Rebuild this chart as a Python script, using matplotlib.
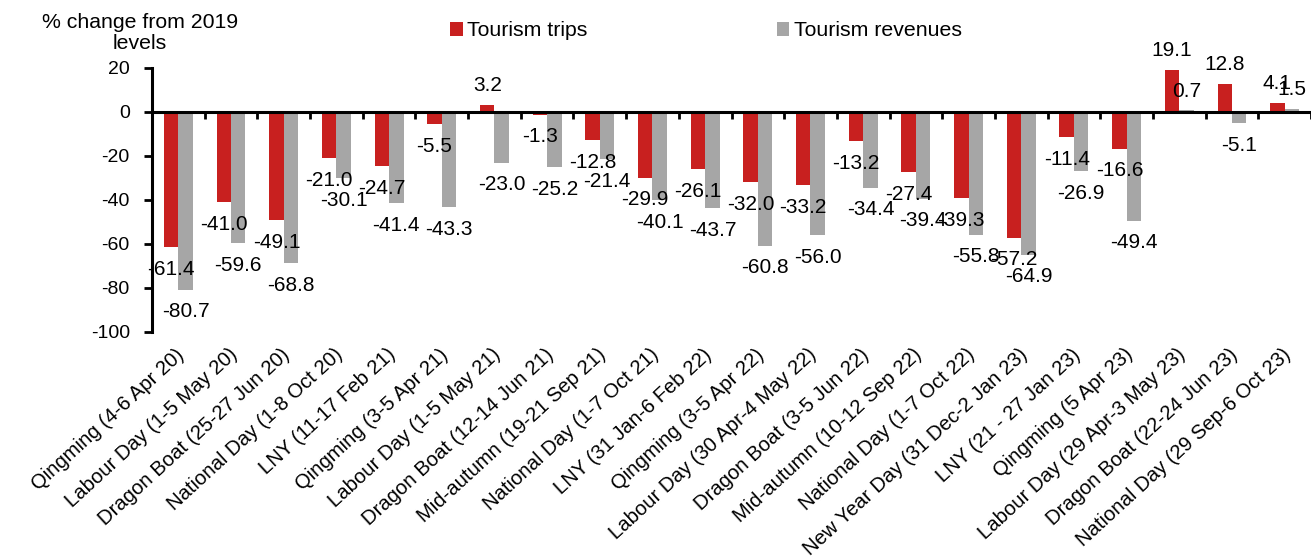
import matplotlib
matplotlib.use("Agg")
import matplotlib.pyplot as plt
import matplotlib.transforms as mtransforms
import numpy as np

plt.rcParams['font.family'] = ['Liberation Sans', 'DejaVu Sans']

categories = [
    "Qingming (4-6 Apr 20)", "Labour Day (1-5 May 20)", "Dragon Boat (25-27 Jun 20)",
    "National Day (1-8 Oct 20)", "LNY (11-17 Feb 21)", "Qingming (3-5 Apr 21)",
    "Labour Day (1-5 May 21)", "Dragon Boat (12-14 Jun 21)", "Mid-autumn (19-21 Sep 21)",
    "National Day (1-7 Oct 21)", "LNY (31 Jan-6 Feb 22)", "Qingming (3-5 Apr 22)",
    "Labour Day (30 Apr-4 May 22)", "Dragon Boat (3-5 Jun 22)", "Mid-autumn (10-12 Sep 22)",
    "National Day (1-7 Oct 22)", "New Year Day (31 Dec-2 Jan 23)", "LNY (21 - 27 Jan 23)",
    "Qingming (5 Apr 23)", "Labour Day (29 Apr-3 May 23)", "Dragon Boat (22-24 Jun 23)",
    "National Day (29 Sep-6 Oct 23)",
]
trips = [-61.4, -41.0, -49.1, -21.0, -24.7, -5.5, 3.2, -1.3, -12.8, -29.9, -26.1,
         -32.0, -33.2, -13.2, -27.4, -39.3, -57.2, -11.4, -16.6, 19.1, 12.8, 4.1]
revenues = [-80.7, -59.6, -68.8, -30.1, -41.4, -43.3, -23.0, -25.2, -21.4, -40.1, -43.7,
            -60.8, -56.0, -34.4, -39.4, -55.8, -64.9, -26.9, -49.4, 0.7, -5.1, 1.5]
yticks = [20, 0, -20, -40, -60, -80, -100]

RED = "#C8201F"
GRAY = "#A6A6A6"
FS_TICK = 14
FS_XLAB = 14.6
FS_LAB = 15
FS_TXT = 15.3

W, H = 1311, 559
fig = plt.figure(figsize=(W / 100, H / 100), dpi=100)
ax = fig.add_axes([152 / W, 1 - 332 / H, (W - 152) / W, (332 - 68) / H])

x = np.arange(len(categories))
bw = 0.275
b1 = ax.bar(x - 0.137, trips, bw, color=RED, label="Tourism trips", zorder=2)
b2 = ax.bar(x + 0.137, revenues, bw, color=GRAY, label="Tourism revenues", zorder=2)

for bars, vals in ((b1, trips), (b2, revenues)):
    for rect, v in zip(bars, vals):
        cx = rect.get_x() + rect.get_width() / 2
        if v >= 0:
            ax.annotate(f"{v:.1f}", (cx, v), xytext=(0, 7), textcoords="offset points",
                        ha="center", va="bottom", fontsize=FS_LAB, zorder=3)
        else:
            ax.annotate(f"{v:.1f}", (cx, v), xytext=(0, -9), textcoords="offset points",
                        ha="center", va="top", fontsize=FS_LAB, zorder=3)

ax.set_xlim(-0.5, len(categories) - 0.5)
ax.set_ylim(-100, 20)
ax.set_yticks(yticks)
ax.set_yticklabels([str(t) for t in yticks], fontsize=FS_TICK)

for s in ("top", "right"):
    ax.spines[s].set_visible(False)
ax.spines["left"].set_linewidth(2.2)
ax.spines["bottom"].set_position(("data", 0))
ax.spines["bottom"].set_linewidth(2.2)
ax.spines["bottom"].set_zorder(4)
ax.tick_params(axis="y", direction="out", length=6, width=2, pad=10)
ax.set_xticks(np.arange(len(categories) + 1) - 0.5)
ax.set_xticklabels([])
ax.tick_params(axis="x", direction="out", length=5, width=2)

offset = mtransforms.ScaledTranslation(-3 / 100, -13 / 100, fig.dpi_scale_trans)
trans = mtransforms.blended_transform_factory(ax.transData, ax.transAxes) + offset
for i, lab in enumerate(categories):
    ax.text(i, 0, lab, transform=trans, rotation=42.5, rotation_mode="anchor",
            ha="right", va="top", fontsize=FS_XLAB)

fig.text(140 / W, 1 - 33 / H, "% change from 2019\nlevels", ha="center", va="center",
         fontsize=FS_TXT, linespacing=1.1)

fig.legend(handles=[b1, b2], loc="center left", bbox_to_anchor=(450 / W, 1 - 31 / H),
           ncol=2, frameon=False, fontsize=FS_TXT, handlelength=0.6, handleheight=0.6,
           handletextpad=0.2, columnspacing=8.9, borderaxespad=0, borderpad=0)

fig.savefig("out.png", dpi=100)
